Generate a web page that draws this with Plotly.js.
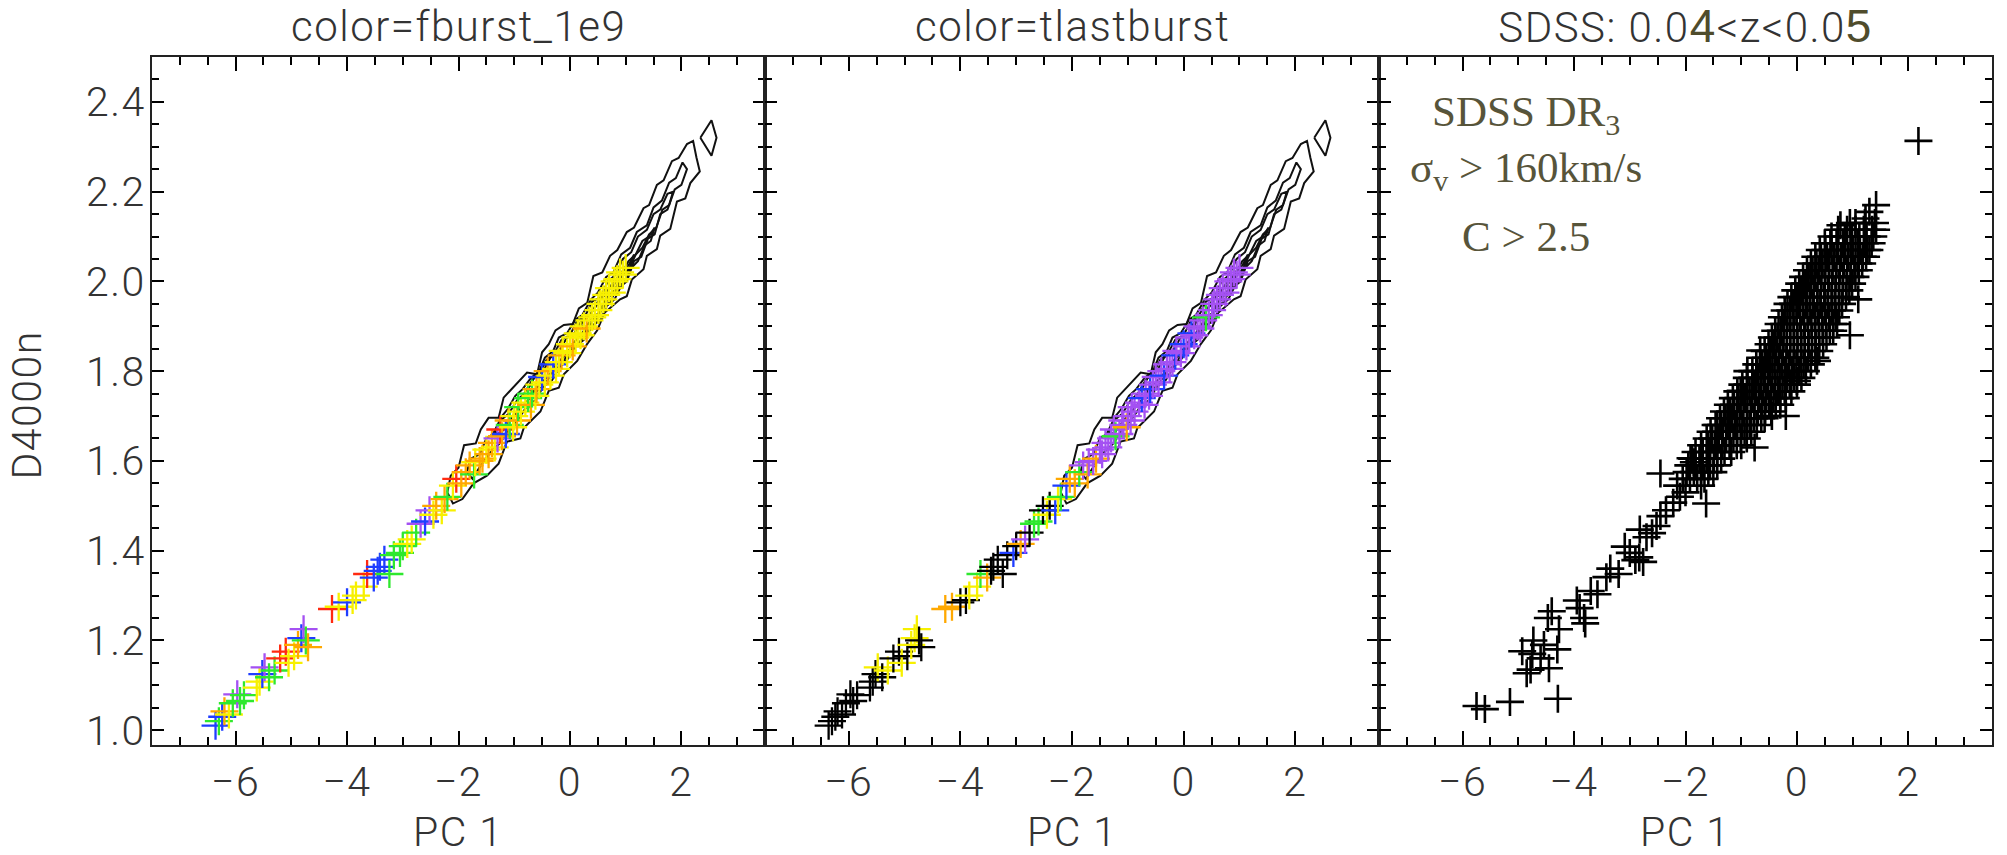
<!DOCTYPE html>
<html>
<head>
<meta charset="utf-8">
<script src="https://cdn.plot.ly/plotly-3.0.1.min.js"></script>
<style>
html,body{margin:0;padding:0;background:#fff;}
#chart{width:2007px;height:855px;}
.main-svg text[style*="Roboto"]{letter-spacing:1.5px;}
</style>
</head>
<body>
<div id="chart"></div>
<script>
// ---------------- DATA ----------------
// model galaxies (same in panel 1 and 2); colour bins: 0 black, 1 purple, 2 blue, 3 green, 4 yellow, 5 orange, 6 red
const modelPC1 = [-6.36,-6.30,-6.24,-6.20,-6.12,-6.05,-5.97,-5.92,-5.85,-5.62,-5.57,-5.52,-5.48,-5.40,-5.30,-5.20,-5.10,-5.05,-4.95,-4.88,-4.82,-4.78,-4.74,-4.70,
 -4.27,-4.15,-4.00,-3.90,-3.84,-3.70,-3.64,-3.52,-3.45,-3.41,-3.33,-3.24,-3.16,-3.05,-3.00,-2.92,-2.84,-2.76,-2.68,-2.60,-2.52,-2.45,-2.40,-2.30,-2.25,-2.20,-2.10,-2.04,-1.95,-1.87,
 -1.80,-1.72,-1.70,-1.62,-1.57,-1.50,-1.46,-1.40,-1.35,-1.30,-1.25,-1.22,-1.15,-1.10,-1.08,-1.02,-1.00,-0.95,-0.93,-0.88,-0.80,-0.75,-0.70,-0.68,-0.62,-0.60,-0.55,-0.50,-0.45,-0.40,-0.35,-0.30,-0.25,-0.20,-0.15,-0.13,-0.05,0.00,0.05,0.10,0.14,0.19,0.25,0.30,0.35,0.40,0.45,0.51,0.55,0.60,0.65,0.70,0.75,0.80,0.85,0.90,0.95,1.00];
const modelD4000 = [1.010,1.020,1.030,1.042,1.035,1.060,1.080,1.065,1.078,1.095,1.108,1.125,1.140,1.118,1.133,1.160,1.175,1.150,1.165,1.190,1.205,1.225,1.200,1.185,
 1.270,1.275,1.285,1.290,1.300,1.320,1.348,1.340,1.355,1.364,1.380,1.348,1.390,1.395,1.410,1.415,1.425,1.440,1.460,1.465,1.490,1.480,1.500,1.490,1.515,1.520,1.545,1.560,1.550,1.575,
 1.590,1.570,1.597,1.600,1.605,1.625,1.615,1.640,1.630,1.650,1.670,1.655,1.660,1.690,1.680,1.675,1.700,1.690,1.720,1.710,1.730,1.740,1.725,1.750,1.745,1.760,1.770,1.787,1.775,1.800,1.790,1.815,1.805,1.820,1.835,1.845,1.840,1.860,1.855,1.875,1.884,1.880,1.900,1.895,1.913,1.920,1.925,1.936,1.950,1.960,1.970,1.985,1.975,2.000,2.005,2.020,2.015,2.030];
const fburstBin = [2,3,2,5,4,3,1,3,3,4,4,2,1,3,3,6,6,4,4,5,2,1,3,5,
 6,4,2,4,4,4,6,2,2,2,2,3,3,3,3,4,4,3,1,2,1,4,5,4,5,3,4,6,5,5,
 5,3,4,5,5,4,5,5,4,1,6,5,2,5,3,4,4,5,3,4,4,3,5,3,4,5,4,2,4,5,4,2,4,4,5,4,4,4,5,4,4,4,4,5,4,4,4,4,4,4,4,4,4,4,4,4,4,4];
const tlastBin = [0,0,0,0,0,0,0,0,0,0,0,0,4,0,4,0,0,4,0,4,4,4,0,0,
 5,5,0,0,4,4,3,5,0,0,0,0,0,2,0,5,1,0,3,3,0,4,0,2,4,3,2,5,5,3,
 1,5,1,1,5,1,1,1,1,1,1,3,1,1,1,5,1,1,1,1,1,2,1,1,1,2,1,1,1,1,2,1,1,1,2,1,1,2,1,1,2,1,1,1,1,3,1,1,1,1,1,1,1,1,1,1,1,1];
const binColours = ['#000000','#a451f2','#1f3dff','#2ee82e','#f7f000','#ffa800','#ff2a10'];

// SDSS density contours (panels 1 and 2)
const contour1PC1 = [-2.20,-2.14,-2.00,-1.90,-1.69,-1.60,-1.46,-1.28,-1.19,-1.05,-0.92,-0.77,-0.59,-0.50,-0.38,-0.26,-0.11,0.05,0.16,0.31,0.42,0.58,0.72,0.85,1.02,1.15,1.32,1.42,1.56,1.68,1.83,1.95,2.10,2.21,2.27,2.33,2.16,2.07,1.92,1.80,1.62,1.56,1.38,1.32,1.11,1.02,0.90,0.75,0.62,0.49,0.31,0.13,-0.11,-0.20,-0.38,-0.53,-0.83,-0.89,-1.13,-1.28,-1.49,-1.73,-1.93,-2.10,-2.20];
const contour1D4000 = [1.530,1.567,1.585,1.635,1.639,1.670,1.696,1.696,1.741,1.760,1.778,1.797,1.793,1.842,1.860,1.891,1.903,1.905,1.940,1.952,2.012,2.020,2.057,2.070,2.110,2.120,2.163,2.170,2.215,2.225,2.268,2.275,2.306,2.313,2.276,2.245,2.219,2.185,2.178,2.117,2.102,2.072,2.057,2.027,2.004,1.967,1.960,1.944,1.930,1.891,1.861,1.823,1.793,1.763,1.756,1.710,1.673,1.650,1.643,1.594,1.567,1.550,1.515,1.505,1.530];
const contour2PC1 = [-1.85,-1.78,-1.62,-1.50,-1.38,-1.22,-1.12,-0.98,-0.85,-0.70,-0.55,-0.45,-0.30,-0.20,-0.05,0.10,0.22,0.38,0.50,0.65,0.78,0.92,1.08,1.20,1.38,1.50,1.65,1.78,1.90,2.02,2.10,2.00,1.88,1.75,1.62,1.52,1.40,1.28,1.15,1.02,0.92,0.80,0.66,0.55,0.40,0.25,0.10,-0.05,-0.18,-0.32,-0.48,-0.62,-0.78,-0.95,-1.10,-1.25,-1.42,-1.60,-1.75,-1.85];
const contour2D4000 = [1.575,1.605,1.615,1.650,1.660,1.700,1.715,1.745,1.760,1.785,1.800,1.830,1.845,1.875,1.885,1.915,1.925,1.960,1.975,2.010,2.020,2.060,2.075,2.110,2.125,2.165,2.180,2.220,2.230,2.265,2.250,2.215,2.205,2.160,2.150,2.105,2.095,2.055,2.045,2.000,1.990,1.960,1.945,1.915,1.900,1.870,1.855,1.825,1.810,1.780,1.765,1.735,1.720,1.690,1.670,1.640,1.620,1.590,1.560,1.575];
const contour3PC1 = [-1.35,-1.25,-1.10,-0.95,-0.82,-0.68,-0.55,-0.42,-0.28,-0.15,0.00,0.12,0.28,0.40,0.55,0.68,0.82,0.95,1.10,1.22,1.38,1.50,1.62,1.75,1.85,1.78,1.66,1.55,1.42,1.30,1.18,1.05,0.92,0.80,0.66,0.52,0.38,0.22,0.08,-0.08,-0.22,-0.38,-0.55,-0.72,-0.90,-1.08,-1.25,-1.35];
const contour3D4000 = [1.665,1.690,1.705,1.735,1.750,1.780,1.795,1.825,1.840,1.870,1.880,1.910,1.925,1.955,1.965,2.000,2.015,2.050,2.065,2.100,2.115,2.150,2.160,2.195,2.200,2.170,2.160,2.120,2.105,2.075,2.060,2.025,2.010,1.980,1.965,1.930,1.915,1.885,1.865,1.835,1.820,1.790,1.770,1.740,1.715,1.690,1.660,1.665];
const contour4PC1 = [-0.75,-0.62,-0.48,-0.35,-0.20,-0.05,0.08,0.22,0.36,0.50,0.64,0.78,0.92,1.05,1.18,1.30,1.42,1.52,1.45,1.34,1.22,1.10,0.98,0.85,0.72,0.58,0.44,0.30,0.15,0.00,-0.15,-0.30,-0.45,-0.60,-0.75];
const contour4D4000 = [1.760,1.790,1.800,1.830,1.845,1.875,1.885,1.915,1.925,1.955,1.970,2.000,2.015,2.045,2.060,2.090,2.100,2.120,2.090,2.080,2.045,2.030,2.000,1.985,1.955,1.940,1.905,1.890,1.860,1.845,1.815,1.800,1.770,1.755,1.760];
const contour5PC1 = [0.20,0.35,0.50,0.62,0.78,0.92,1.05,1.15,1.08,0.96,0.84,0.70,0.56,0.42,0.28,0.20];
const contour5D4000 = [1.905,1.925,1.950,1.975,1.990,2.020,2.035,2.060,2.030,2.015,1.985,1.965,1.935,1.915,1.885,1.905];
const contour6PC1 = [2.34,2.54,2.63,2.54,2.34];
const contour6D4000 = [2.320,2.359,2.320,2.280,2.320];

// SDSS galaxies (panel 3): dense core row by row [D4000n, [PC1 values]]
const sdssCoreRows = [
 [1.560,[-2.05,-1.92,-1.79,-1.66]],[1.575,[-1.98,-1.85,-1.72,-1.59,-1.50]],[1.590,[-1.95,-1.82,-1.69,-1.56,-1.43]],
 [1.605,[-1.88,-1.75,-1.62,-1.49,-1.36]],[1.620,[-1.82,-1.69,-1.56,-1.43,-1.30,-1.18]],[1.635,[-1.72,-1.60,-1.47,-1.34,-1.21,-1.08,-1.00]],
 [1.650,[-1.62,-1.52,-1.40,-1.27,-1.14,-1.01,-0.90]],[1.665,[-1.55,-1.45,-1.33,-1.20,-1.07,-0.94,-0.82]],[1.680,[-1.46,-1.36,-1.24,-1.11,-0.98,-0.85,-0.72]],
 [1.695,[-1.38,-1.28,-1.16,-1.03,-0.90,-0.77,-0.64,-0.58]],[1.710,[-1.31,-1.20,-1.08,-0.96,-0.83,-0.70,-0.57,-0.46]],
 [1.725,[-1.24,-1.13,-1.01,-0.89,-0.76,-0.63,-0.50,-0.38,-0.30]],[1.740,[-1.15,-1.05,-0.93,-0.81,-0.68,-0.55,-0.42,-0.30,-0.20]],
 [1.755,[-1.07,-0.97,-0.85,-0.73,-0.60,-0.47,-0.34,-0.22,-0.10]],[1.770,[-0.98,-0.89,-0.77,-0.65,-0.52,-0.39,-0.26,-0.13,0.00]],
 [1.785,[-0.90,-0.80,-0.69,-0.57,-0.44,-0.31,-0.18,-0.05,0.08]],[1.800,[-0.80,-0.71,-0.60,-0.48,-0.35,-0.22,-0.09,0.04,0.16]],
 [1.815,[-0.73,-0.63,-0.52,-0.40,-0.27,-0.14,-0.01,0.12,0.25]],[1.830,[-0.66,-0.56,-0.44,-0.32,-0.19,-0.06,0.07,0.20,0.33]],
 [1.845,[-0.58,-0.48,-0.37,-0.25,-0.12,0.01,0.14,0.27,0.40]],[1.860,[-0.51,-0.41,-0.30,-0.18,-0.05,0.08,0.21,0.34,0.47]],
 [1.875,[-0.45,-0.35,-0.24,-0.12,0.01,0.14,0.27,0.40,0.53]],[1.890,[-0.39,-0.29,-0.18,-0.06,0.07,0.20,0.33,0.46,0.59,0.65]],
 [1.905,[-0.33,-0.23,-0.12,0.00,0.13,0.26,0.39,0.52,0.65,0.72]],[1.920,[-0.27,-0.17,-0.06,0.06,0.19,0.32,0.45,0.58,0.70]],
 [1.935,[-0.22,-0.12,-0.01,0.11,0.24,0.37,0.50,0.63,0.76]],[1.950,[-0.17,-0.07,0.04,0.16,0.29,0.42,0.55,0.68,0.81]],
 [1.965,[-0.10,0.00,0.11,0.23,0.36,0.49,0.62,0.75,0.88]],[1.980,[-0.03,0.07,0.18,0.30,0.43,0.56,0.69,0.82,0.94]],
 [1.995,[0.04,0.14,0.25,0.37,0.50,0.63,0.76,0.89,0.99]],[2.010,[0.11,0.21,0.32,0.44,0.57,0.70,0.83,0.96,1.05]],
 [2.025,[0.18,0.28,0.39,0.51,0.64,0.77,0.90,1.03,1.11]],[2.040,[0.25,0.35,0.46,0.58,0.71,0.84,0.97,1.10,1.17]],
 [2.055,[0.33,0.43,0.54,0.66,0.79,0.92,1.05,1.18,1.24]],[2.070,[0.41,0.51,0.62,0.74,0.87,1.00,1.13,1.26,1.30]],
 [2.085,[0.50,0.60,0.71,0.83,0.96,1.09,1.22,1.34]],[2.100,[0.62,0.73,0.86,0.99,1.12,1.25,1.37]],
 [2.115,[0.74,0.90,1.05,1.20,1.35,1.42]],[2.130,[0.95,1.22,1.40]]
];
// SDSS galaxies (panel 3): scattered points outside the core
const sdssSparsePC1 = [-5.75,-5.60,-5.15,-4.29,-4.85,-4.78,-4.45,-4.93,-4.75,-4.60,-4.73,-4.54,-4.30,-4.27,-4.47,-3.82,-3.80,-4.40,-3.90,
 -3.95,-3.58,-3.70,-3.42,-3.20,-3.35,-3.09,-2.90,-2.83,-2.76,-3.00,-2.82,-2.60,-2.70,-2.52,-2.45,-2.45,-2.35,-2.22,-2.10,-2.00,-2.15,-1.63,-1.85,-1.72,
 -0.76,-0.66,0.36,0.00,-0.89,-1.01,-1.43,-1.91,0.78,1.05,1.23,1.30,1.42,2.18,0.95,1.10,-0.20,-0.45];
const sdssSparseD4000 = [1.054,1.047,1.063,1.070,1.127,1.135,1.138,1.176,1.170,1.160,1.200,1.190,1.180,1.225,1.250,1.250,1.238,1.265,1.272,
 1.289,1.303,1.310,1.341,1.348,1.360,1.409,1.379,1.385,1.375,1.395,1.447,1.439,1.430,1.455,1.477,1.572,1.490,1.507,1.520,1.530,1.545,1.505,1.597,1.545,
 1.630,1.846,1.823,1.778,1.800,1.756,1.680,1.606,2.125,2.130,2.140,2.155,2.170,2.313,1.880,1.960,1.700,1.700];

const panelTitles = ['color=fburst_1e9','color=tlastburst',
 'SDSS: 0.0<span style="color:#4f4c2c;font-family:Liberation Sans,Arial;font-weight:400;font-size:46px">4</span>&lt;z&lt;0.0<span style="color:#4f4c2c;font-family:Liberation Sans,Arial;font-weight:400;font-size:46px">5</span>'];
const xTitle = 'PC 1';
const yTitle = 'D4000n';
const sdssLabelLines = ['SDSS DR<sub>3</sub>','σ<sub>v</sub> &gt; 160km/s','C &gt; 2.5'];

// ---------------- BUILD ----------------
const sdssPC1 = [], sdssD4000 = [];
sdssCoreRows.forEach(r => r[1].forEach(x => { sdssPC1.push(x); sdssD4000.push(r[0]); }));
sdssSparsePC1.forEach((x,i) => { sdssPC1.push(x); sdssD4000.push(sdssSparseD4000[i]); });
const contours = [[contour1PC1,contour1D4000],[contour2PC1,contour2D4000],[contour3PC1,contour3D4000],
 [contour4PC1,contour4D4000],[contour5PC1,contour5D4000],[contour6PC1,contour6D4000]];

const traces = [];
['x','x2'].forEach((xa,k) => {
  const ya = k === 0 ? 'y' : 'y2';
  contours.forEach(c => traces.push({type:'scatter',mode:'lines',x:c[0],y:c[1],xaxis:xa,yaxis:ya,
    line:{color:'#111',width:2},hoverinfo:'skip',showlegend:false}));
});
traces.push({type:'scatter',mode:'markers',x:modelPC1,y:modelD4000,xaxis:'x',yaxis:'y',showlegend:false,hoverinfo:'skip',
  marker:{symbol:'cross-thin-open',size:20,color:fburstBin.map(b=>binColours[b]),line:{width:2.3}}});
traces.push({type:'scatter',mode:'markers',x:modelPC1,y:modelD4000,xaxis:'x2',yaxis:'y2',showlegend:false,hoverinfo:'skip',
  marker:{symbol:'cross-thin-open',size:20,color:tlastBin.map(b=>binColours[b]),line:{width:2.3}}});
traces.push({type:'scatter',mode:'markers',x:sdssPC1,y:sdssD4000,xaxis:'x3',yaxis:'y3',showlegend:false,hoverinfo:'skip',
  marker:{symbol:'cross-thin-open',size:20,color:'#000',line:{width:2.6}}});
// empty traces that register the tick-only overlay axes
[['x4','y'],['x5','y2'],['x6','y3'],['x','y4']].forEach(p => traces.push({type:'scatter',mode:'markers',x:[],y:[],
  xaxis:p[0],yaxis:p[1],hoverinfo:'skip',showlegend:false}));

const W = 2007, H = 855;
const panelLeft = [152,765,1379], panelRight = [765,1379,1992];
const panelTop = 57, panelBottom = 745;
const xRange = [-7.5,3.5], yRange = [0.967,2.5];
const lightFont = {family:'Roboto, Arial, sans-serif', size:41, color:'#333', weight:300};
const titleFont = {family:'Roboto, Arial, sans-serif', size:42, color:'#333', weight:300};
const xMinor = {ticks:'inside', ticklen:8, tickwidth:2, tickcolor:'#000', dtick:0.5};
const yMinor = {ticks:'inside', ticklen:7, tickwidth:2, tickcolor:'#000', dtick:0.05};
const layout = {width:W, height:H, margin:{l:0,r:0,t:0,b:0}, paper_bgcolor:'#fff', plot_bgcolor:'rgba(0,0,0,0)',
  showlegend:false, annotations:[]};
for (let i=0;i<3;i++){
  const sx = i===0 ? '' : String(i+1);
  layout['xaxis'+sx] = {domain:[panelLeft[i]/W, panelRight[i]/W], range:xRange, anchor:'y'+sx,
    showgrid:false, zeroline:false, showline:true, mirror:'ticks', linecolor:'#222', linewidth:2,
    ticks:'inside', ticklen:14, tickwidth:2, tickcolor:'#000', dtick:2, tickfont:lightFont, minor:xMinor};
  layout['yaxis'+sx] = {domain:[(H-panelBottom)/H,(H-panelTop)/H], range:yRange, anchor:'x'+sx,
    showgrid:false, zeroline:false, showline:true, mirror:'ticks', linecolor:'#222', linewidth:2,
    ticks:'inside', ticklen:12, tickwidth:2, tickcolor:'#000', dtick:0.2, tickformat:'.1f',
    tickfont:lightFont, showticklabels: i===0, ticklabelstandoff: i===0 ? -4 : 0, minor:yMinor};
  // tick-only overlay x axis (no labels)
  layout['xaxis'+(4+i)] = {overlaying:'x'+sx, anchor:'y'+sx, range:xRange, side:'bottom',
    showgrid:false, zeroline:false, showline:false, mirror:'ticks', showticklabels:false,
    ticks:'inside', ticklen:14, tickwidth:2, tickcolor:'#000', dtick:2, minor:xMinor};
  layout.annotations.push({xref:'paper',yref:'paper',x:(panelLeft[i]+panelRight[i])/2/W,y:(H-26)/H,
    text:panelTitles[i],showarrow:false,xanchor:'center',yanchor:'middle',font:titleFont});
  layout.annotations.push({xref:'paper',yref:'paper',x:(panelLeft[i]+panelRight[i])/2/W,y:(H-832)/H,
    text:xTitle,showarrow:false,xanchor:'center',yanchor:'middle',font:lightFont});
}
// tick-only overlay y axis for panel 1
layout.yaxis4 = {overlaying:'y', anchor:'x', range:yRange, side:'left',
  showgrid:false, zeroline:false, showline:false, mirror:'ticks', showticklabels:false,
  ticks:'inside', ticklen:12, tickwidth:2, tickcolor:'#000', dtick:0.2, minor:yMinor};
layout.annotations.push({xref:'paper',yref:'paper',x:27/W,y:(H-405)/H,text:yTitle,textangle:-90,
  showarrow:false,xanchor:'center',yanchor:'middle',font:lightFont});
const labelY = [2.37,2.245,2.10];
sdssLabelLines.forEach((t,i)=>{
  layout.annotations.push({xref:'x3',yref:'y3',x:-4.86,y:labelY[i],text:t,showarrow:false,
    xanchor:'center',yanchor:'middle',
    font:{family:'Liberation Serif, Times New Roman, serif',size:43,color:'#57543a'}});
});
Plotly.newPlot('chart', traces, layout, {displayModeBar:false});
</script>
</body>
</html>
